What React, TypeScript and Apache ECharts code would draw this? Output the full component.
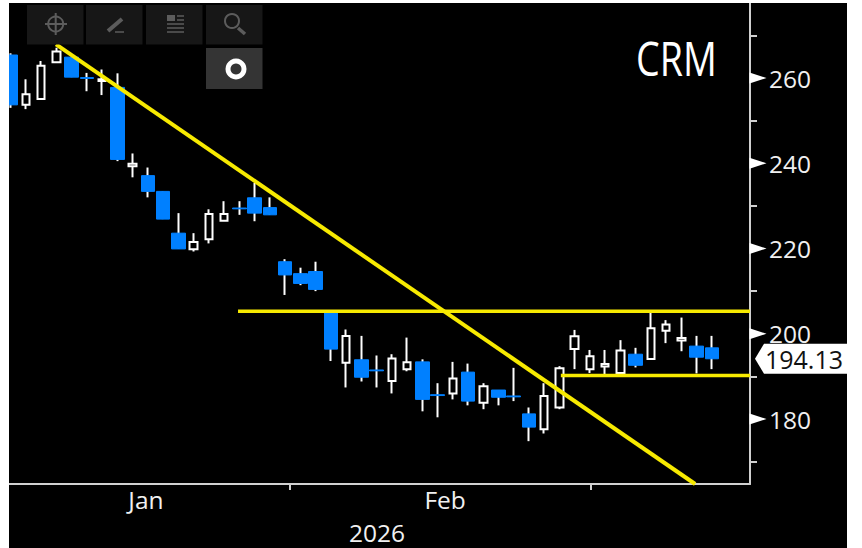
import React, { useEffect, useRef } from "react";
import * as echarts from "echarts";

const categories = [
  "2026-01-05","2026-01-06","2026-01-07","2026-01-08","2026-01-09","2026-01-12","2026-01-13","2026-01-14","2026-01-15","2026-01-16",
  "2026-01-20","2026-01-21","2026-01-22","2026-01-23","2026-01-26","2026-01-27","2026-01-28","2026-01-29","2026-01-30",
  "2026-02-02","2026-02-03","2026-02-04","2026-02-05","2026-02-06","2026-02-09","2026-02-10","2026-02-11","2026-02-12","2026-02-13",
  "2026-02-17","2026-02-18","2026-02-19","2026-02-20","2026-02-23","2026-02-24","2026-02-25","2026-02-26","2026-02-27",
  "2026-03-02","2026-03-03","2026-03-04","2026-03-05","2026-03-06","2026-03-09","2026-03-10","2026-03-11","2026-03-12",
  "2026-03-13","2026-03-16",
];

const opens = [
  265.4,253.7,255.1,263.7,264.9,260.1,259.3,257.8,239.3,237.1,
  233.4,223.6,219.8,222.2,226.5,229.5,231.9,229.6,216.9,214.1,
  214.6,205.1,193.2,193.9,191.5,188.9,191.7,193.4,185.7,186.0,
  191.0,183.8,186.8,185.4,181.2,177.6,182.7,196.4,191.7,192.3,
  190.8,195.2,194.1,200.7,198.4,197.1,196.7,
];
const closes = [
  253.7,256.2,262.9,266.2,260.2,259.9,259.7,240.9,239.9,233.4,
  226.9,219.9,221.5,228.1,228.1,229.3,228.3,227.9,213.8,211.8,
  210.4,196.4,199.5,189.8,191.3,194.2,193.3,184.6,185.5,189.5,
  184.2,187.7,185.1,185.2,178.1,185.4,191.9,199.4,194.7,192.9,
  196.1,192.6,201.3,202.2,199.0,194.5,194.13,
];
const lows = [
  253.0,252.7,255.1,263.7,260.2,256.9,256.0,240.5,236.7,232.0,
  226.9,219.9,219.3,221.2,226.5,227.9,226.4,227.9,209.1,211.4,
  210.0,193.6,187.4,188.8,187.4,186.0,191.2,181.8,180.4,184.6,
  183.2,182.3,183.2,184.2,174.8,176.6,182.3,191.7,190.8,190.3,
  190.7,192.1,194.1,197.8,195.9,190.7,191.7,
];
const highs = [
  265.8,259.7,264.0,267.1,264.9,261.2,262.0,261.1,242.3,239.0,
  233.4,228.3,223.6,229.2,231.1,231.1,235.4,232.0,217.5,215.5,
  216.9,205.1,201.0,199.5,194.9,195.2,199.1,194.0,188.4,193.4,
  193.0,188.4,186.8,192.0,182.7,188.4,192.4,200.9,196.2,196.2,
  198.5,196.7,204.9,203.2,203.8,199.5,199.5,
];

const yMajorTicks = [180, 200, 220, 240, 260];
const yMinorTicks = [170, 190, 210, 230, 250, 270];
const monthLabels = ["Jan", "Feb"];
const monthLabelPositions = [8.87, 28.5];
const monthTickPositions = [18.32, 38.07];
const yearLabel = "2026";
const title = "CRM";
const lastPrice = 194.13;
const trendLine = [[2.97, 267.9], [44.9, 164.75]];
const resistanceLine = [[14.91, 205.3], [48.5, 205.3]];
const supportLine = [[36.09, 190.2], [48.5, 190.2]];

const X_MAX = 48.5;
const BLUE = "#0080ff";
const YELLOW = "#f7ea00";
const AXIS = "#d0d0d0";
const FONT = '"Open Sans", "Noto Sans", sans-serif';
const ICON = "#5c5c5c";
const BTN = "#171717";

const blank = ["-", "-", "-", "-"];
const isUp = (i: number) => closes[i] >= opens[i];

const buttons = [27, 86, 146, 206].map((x) => ({
  type: "rect", shape: { x, y: 5, width: 56.5, height: 39.5 }, style: { fill: BTN },
}));

const toolbar: any[] = [
  ...buttons,
  { type: "rect", shape: { x: 206, y: 48, width: 56.5, height: 41 }, style: { fill: "#343434" } },
  // crosshair
  { type: "circle", shape: { cx: 55.7, cy: 24, r: 7.5 }, style: { fill: "none", stroke: ICON, lineWidth: 2 } },
  { type: "line", shape: { x1: 55.7, y1: 13, x2: 55.7, y2: 35 }, style: { stroke: ICON, lineWidth: 2 } },
  { type: "line", shape: { x1: 45, y1: 24, x2: 67, y2: 24 }, style: { stroke: ICON, lineWidth: 2 } },
  // pencil
  { type: "line", shape: { x1: 108, y1: 31, x2: 122, y2: 19 }, style: { stroke: ICON, lineWidth: 4 } },
  { type: "line", shape: { x1: 115, y1: 32, x2: 124, y2: 32 }, style: { stroke: ICON, lineWidth: 1.5 } },
  // list
  { type: "rect", shape: { x: 167, y: 15, width: 8, height: 6 }, style: { fill: ICON } },
  { type: "line", shape: { x1: 177, y1: 16, x2: 184, y2: 16 }, style: { stroke: ICON, lineWidth: 1.5 } },
  { type: "line", shape: { x1: 177, y1: 20, x2: 184, y2: 20 }, style: { stroke: ICON, lineWidth: 1.5 } },
  { type: "line", shape: { x1: 167, y1: 24, x2: 184, y2: 24 }, style: { stroke: ICON, lineWidth: 1.5 } },
  { type: "line", shape: { x1: 167, y1: 28, x2: 184, y2: 28 }, style: { stroke: ICON, lineWidth: 1.5 } },
  { type: "line", shape: { x1: 167, y1: 32, x2: 184, y2: 32 }, style: { stroke: ICON, lineWidth: 1.5 } },
  // magnifier
  { type: "circle", shape: { cx: 232, cy: 21, r: 7 }, style: { fill: "none", stroke: ICON, lineWidth: 2 } },
  { type: "line", shape: { x1: 238, y1: 28, x2: 245, y2: 34 }, style: { stroke: ICON, lineWidth: 3.5 } },
  // ring
  { type: "ring", shape: { cx: 236, cy: 69, r: 10.5, r0: 5.5 }, style: { fill: "#ffffff" } },
];

export default function App() {
  const ref = useRef<HTMLDivElement>(null);

  useEffect(() => {
    const chart = echarts.init(ref.current!, undefined, { renderer: "svg" });

    const wickData = opens.map((o, i) => [o, closes[i], lows[i], highs[i]]);
    const upData = opens.map((o, i) => {
      const c = closes[i];
      return isUp(i) ? [o, c, o, c] : blank;
    });
    const downData = opens.map((o, i) => {
      const c = closes[i];
      return isUp(i) ? blank : [o, c, c, o];
    });

    const option: any = {
      animation: false,
      backgroundColor: "#000000",
      grid: { left: -5.86, right: 97, top: 0, bottom: 64, containLabel: false, outerBoundsMode: "none" },
      xAxis: [
        {
          type: "category",
          data: categories,
          show: false,
          boundaryGap: true,
        },
        {
          type: "value",
          position: "bottom",
          min: -0.5,
          max: X_MAX,
          splitLine: { show: false },
          axisLine: { show: true, onZero: false, lineStyle: { color: AXIS, width: 2 } },
          axisTick: { show: true, customValues: monthTickPositions, length: 6, lineStyle: { color: AXIS, width: 2 } },
          axisLabel: {
            show: true,
            customValues: monthLabelPositions,
            formatter: (v: number) => monthLabels[monthLabelPositions.indexOf(v)] ?? "",
            color: "#f0f0f0",
            fontFamily: FONT,
            fontSize: 24.5,
            margin: 3,
          },
        },
      ],
      yAxis: {
        type: "value",
        position: "right",
        min: 164.75,
        max: 277.6,
        splitLine: { show: false },
        axisLine: { show: true, onZero: false, lineStyle: { color: AXIS, width: 2 } },
        axisTick: { show: true, customValues: yMinorTicks, length: 7, lineStyle: { color: AXIS, width: 2 } },
        axisLabel: {
          show: true,
          customValues: yMajorTicks,
          color: "#f0f0f0",
          fontFamily: FONT,
          fontSize: 24.5,
          margin: 19,
        },
      },
      series: [
        {
          name: "Wicks",
          type: "candlestick",
          xAxisIndex: 0,
          data: wickData,
          barWidth: 1,
          z: 2,
          itemStyle: { color: "#ffffff", color0: "#ffffff", borderColor: "#ffffff", borderColor0: "#ffffff", borderWidth: 2 },
        },
        {
          name: "Up",
          type: "candlestick",
          xAxisIndex: 0,
          data: upData,
          barWidth: 8,
          z: 3,
          itemStyle: { color: "#000000", color0: "#000000", borderColor: "#ffffff", borderColor0: "#ffffff", borderWidth: 2 },
        },
        {
          name: "Down",
          type: "candlestick",
          xAxisIndex: 0,
          data: downData,
          barWidth: 14,
          z: 3,
          itemStyle: { color: BLUE, color0: BLUE, borderColor: BLUE, borderColor0: BLUE, borderWidth: 1 },
        },
        ...[trendLine, resistanceLine, supportLine].map((d, i) => ({
          name: ["Trend", "Resistance", "Support"][i],
          type: "line",
          xAxisIndex: 1,
          data: d,
          showSymbol: false,
          symbol: "none",
          z: 4,
          lineStyle: { color: YELLOW, width: i === 0 ? 4 : 3.5 },
        })),
        {
          name: "Major ticks",
          type: "scatter",
          xAxisIndex: 1,
          data: yMajorTicks.map((v) => [X_MAX, v]),
          symbol: "triangle",
          symbolSize: [11, 17],
          symbolRotate: -90,
          symbolOffset: [8, 0],
          clip: false,
          z: 5,
          itemStyle: { color: "#ffffff", opacity: 1 },
        },
        {
          name: "Last price",
          type: "scatter",
          xAxisIndex: 1,
          data: [[X_MAX, lastPrice]],
          symbol: "path://M9 0H92V30H9L0 15Z",
          symbolSize: [92, 30],
          symbolOffset: [51, 0],
          clip: false,
          z: 6,
          itemStyle: { color: "#ffffff", opacity: 1 },
          label: {
            show: true,
            position: "inside",
            offset: [3, 0],
            formatter: lastPrice.toFixed(2),
            color: "#111111",
            fontFamily: FONT,
            fontSize: 25,
          },
        },
      ],
      graphic: [
        {
          type: "group",
          x: -9,
          y: -3,
          z: 20,
          silent: true,
          children: toolbar.map((e) => ({ ...e, z: 20 })),
        },
        {
          type: "text",
          x: 627,
          y: 31,
          scaleX: 0.8,
          z: 20,
          style: { text: title, fill: "#ffffff", font: `47px ${FONT}`, textAlign: "left", textVerticalAlign: "top" },
        },
        {
          type: "text",
          x: 368,
          y: 529,
          z: 20,
          style: { text: yearLabel, fill: "#f0f0f0", font: `24.5px ${FONT}`, textAlign: "center", textVerticalAlign: "middle" },
        },
      ],
    };

    chart.setOption(option);
    return () => chart.dispose();
  }, []);

  return (
    <div
      ref={ref}
      style={{ position: "absolute", left: 9, top: 3, width: 838, height: 545, background: "#000" }}
    />
  );
}
